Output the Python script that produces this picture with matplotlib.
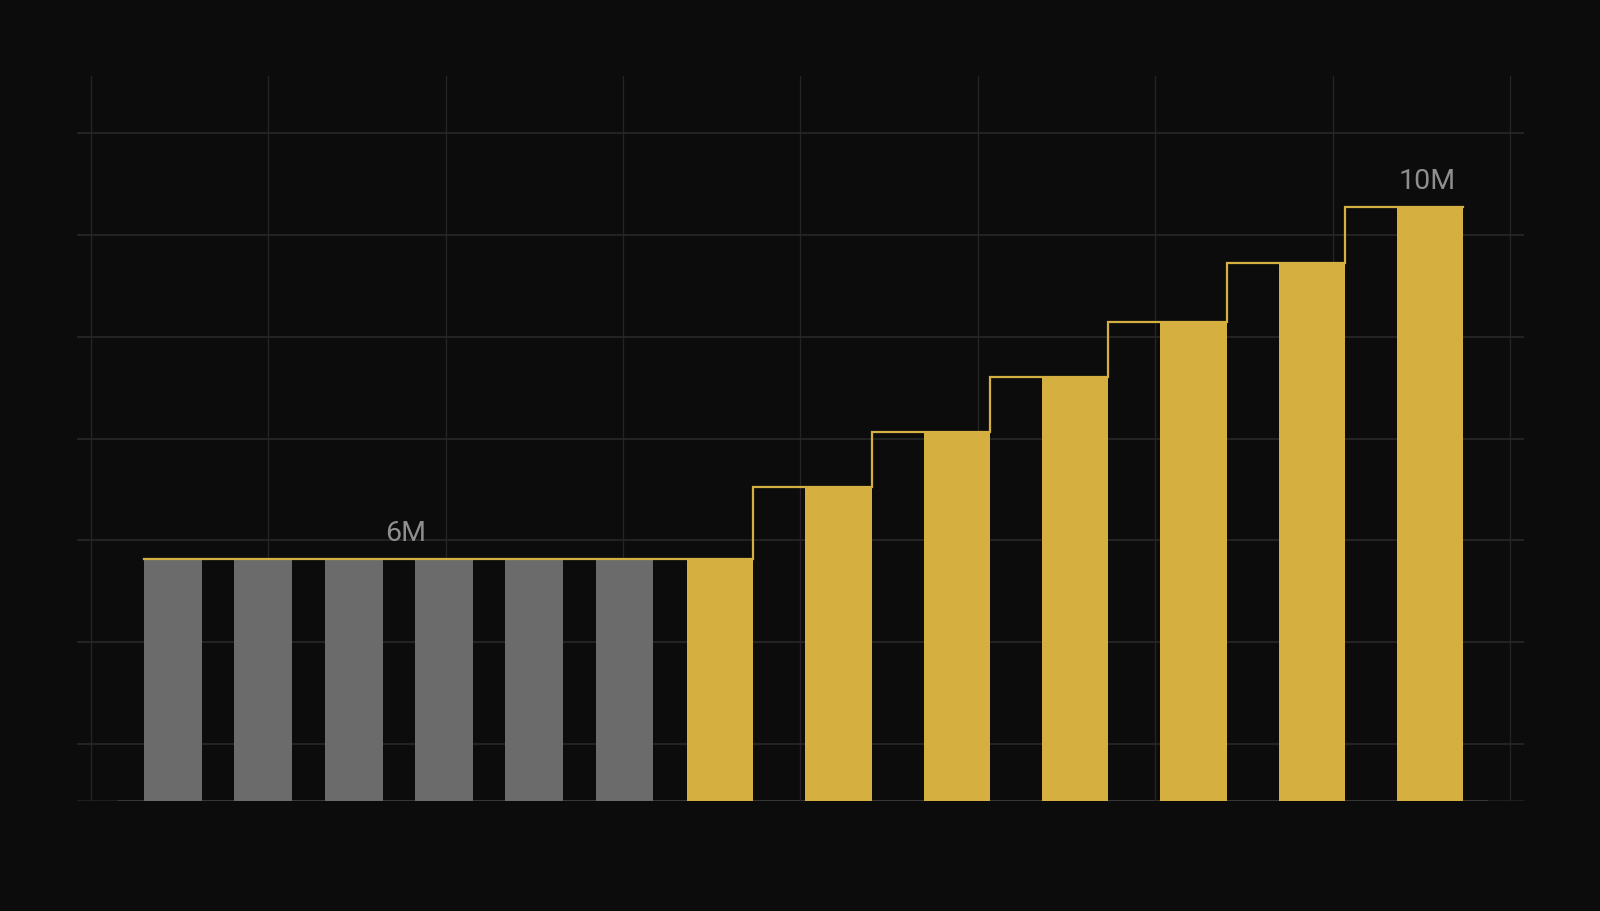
import matplotlib
matplotlib.use("Agg")
import matplotlib.pyplot as plt
import numpy as np

# ---- data (values in millions) ----
gray_values = [6.0, 6.0, 6.0, 6.0, 6.0, 6.0]
gold_values = [6.01, 6.82, 7.44, 8.07, 8.70, 9.37, 10.0]
label_texts = ["6M", "10M"]

# ---- style ----
BG = "#0c0c0c"
GOLD = "#d5b041"
GRAY = "#6b6b6b"
GRID = "#252525"
LABEL = "#8e8e8e"

fig = plt.figure(figsize=(16, 9.12), dpi=100, facecolor=BG)
ax = fig.add_axes([76.5 / 1600, 110 / 912, 1447 / 1600, 725.5 / 912])
ax.set_facecolor(BG)

# layout: gray group spacing 1, gold group spacing wider
gray_x = np.arange(len(gray_values), dtype=float)
gold_start = len(gray_values) + 0.06
gold_step = 1.31
gold_x = gold_start + gold_step * np.arange(len(gold_values))
gray_w = 0.64
gold_w = 0.735

ymin, ymax = 3.252, 11.497
ax.set_xlim(-1.069, 14.955)
ax.set_ylim(ymin, ymax)

# grid
ax.set_xticks(-0.910 + 1.9646 * np.arange(9))
ax.set_yticks(3.90 + 1.157 * np.arange(7))
ax.grid(axis="x", color=GRID, lw=0.9, zorder=0)
ax.grid(axis="y", color="#282828", lw=1.2, zorder=0)
ax.tick_params(length=0, labelbottom=False, labelleft=False)
for s in ax.spines.values():
    s.set_visible(False)

# baseline
ax.axhline(ymin + 0.005, color="#222222", lw=2, zorder=1)
ax.hlines(ymin + 0.005, -0.62, 14.55, color="#3a3a3a", lw=2, zorder=1)

# bars
ax.bar(gray_x, gray_values, width=gray_w, color=GRAY, zorder=2)
ax.bar(gold_x, gold_values, width=gold_w, color=GOLD, zorder=2)

# step outline
xs = [gray_x[0] - gray_w / 2] + list(gold_x + gold_w / 2)
ys = [gray_values[0]] + list(gold_values[1:]) + [gold_values[-1]]
ax.step(xs, ys, where="post", color=GOLD, lw=1.6, zorder=3,
        solid_joinstyle="miter")

# labels
off = 0.22
ax.text(2.58, gray_values[0] + off, label_texts[0], color=LABEL,
        fontsize=20.5, family="Roboto", ha="center", va="baseline", zorder=4)
ax.text(gold_x[-1] - 0.03, gold_values[-1] + off, label_texts[1], color=LABEL,
        fontsize=20.5, family="Roboto", ha="center", va="baseline", zorder=4)

fig.savefig("out.png", dpi=100, facecolor=BG)
